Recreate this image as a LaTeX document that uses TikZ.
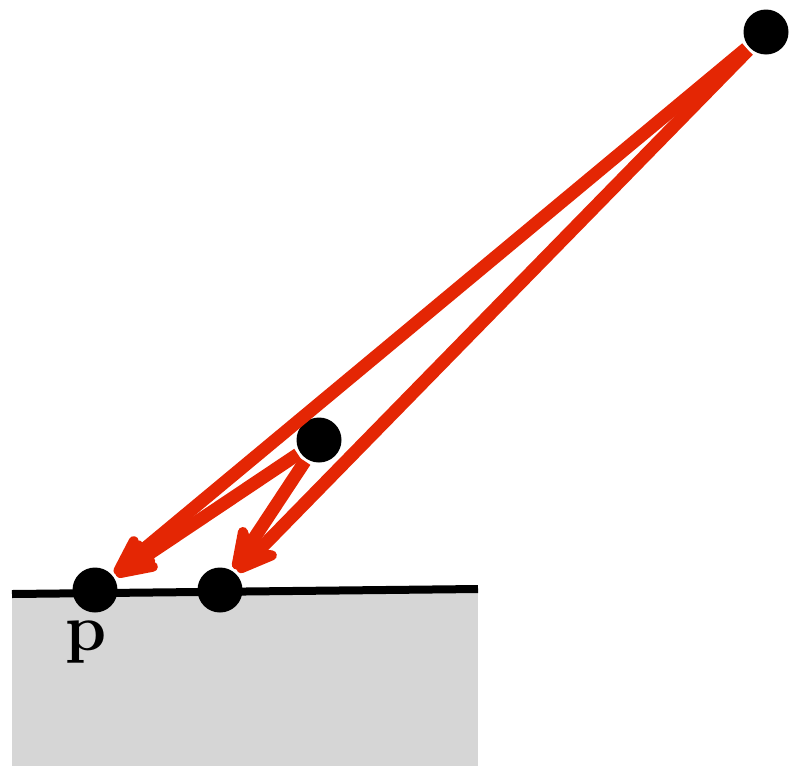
\documentclass[tikz,border=0pt]{standalone}
\usepackage{fontspec}
\usetikzlibrary{arrows.meta}
\definecolor{arrowred}{RGB}{228,38,4}
\definecolor{groundgray}{RGB}{214,214,214}
\begin{document}
\begin{tikzpicture}[x=1pt,y=-1pt,
  dot/.style={circle,fill=black,minimum size=45pt,inner sep=0pt,outer sep=3pt},
  ray/.style={draw=arrowred,line width=13pt,
    -{Stealth[length=58pt,width=48pt,inset=18pt,round]}}]
\useasboundingbox (0,0) rectangle (789,766);
\fill[groundgray] (12,592) rectangle (478,766);
\coordinate (gl) at (12,594);
\coordinate (gr) at (478,589);
\draw[line width=8pt] (gl) -- (gr);
\node[dot] (top) at (766,32) {};
\node[dot] (mid) at (319,440) {};
\node[dot] (p) at (95,590) {};
\node[dot] (q) at (220,590) {};
\node[anchor=base,inner sep=0pt,font=\bfseries\fontsize{66}{66}\selectfont] (plab) at (86,650) {p};
\draw[ray] (top) -- (p);
\draw[ray] (top) -- (q);
\draw[ray] (mid) -- (p);
\draw[ray] (mid) -- (q);
\end{tikzpicture}
\end{document}
